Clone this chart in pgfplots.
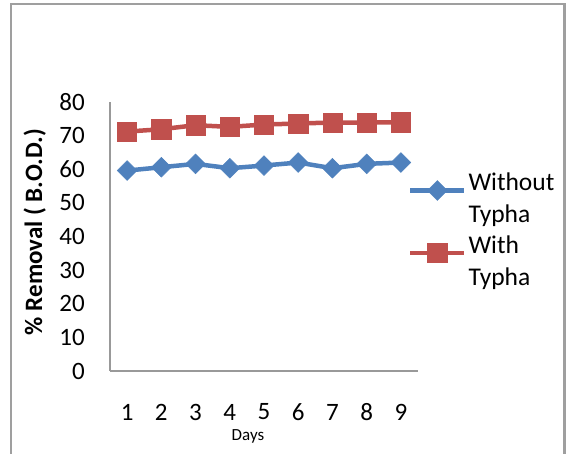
\documentclass[border=0pt]{standalone}
\usepackage{pgfplots}
\pgfplotsset{compat=1.18}
\usepackage{fontspec}
\setmainfont{Carlito}
\definecolor{xlblue}{HTML}{4F81BD}
\definecolor{xlred}{HTML}{C0504D}
\begin{document}
\begin{tikzpicture}[x=1pt,y=1pt]
\useasboundingbox (0,0) rectangle (566,454);
\draw[gray!75, line width=2.5pt] (11,-10) -- (11,450) -- (564.5,450) -- (564.5,-10);
\begin{axis}[
  at={(110pt,83pt)}, anchor=south west,
  scale only axis, width=308pt, height=269pt,
  xmin=0.5, xmax=9.5, ymin=0, ymax=80,
  axis lines=left,
  axis line style={gray!80, line width=1.2pt, -},
  xtick={1,...,9}, ytick={0,10,...,80},
  major tick length=0pt,
  /pgf/number format/assume math mode=true,
  tick label style={font=\fontsize{25}{29}\selectfont},
  xticklabel style={anchor=center, yshift=-41pt},
  yticklabel style={anchor=east, inner sep=0pt, xshift=-25pt},
  xlabel={Days},
  xlabel style={font=\fontsize{17}{20}\selectfont, at={(axis description cs:0.448,-0.245)}, anchor=center},
  ylabel={\% Removal ( B.O.D.)},
  ylabel style={font=\fontsize{25}{28}\selectfont\bfseries, at={(axis description cs:-0.244,0.517)}, anchor=center},
  legend style={draw=none, fill=none, at={(axis description cs:0.967,0.745)}, anchor=north west,
    inner sep=0pt, row sep=33pt,
    nodes={font=\fontsize{25.5}{32.5}\selectfont, inner sep=2pt, anchor=base west}},
  legend cell align=left,
  legend image code/.code={\draw[mark repeat=2,mark phase=2] plot coordinates {(0pt,0pt)(27pt,0pt)(54pt,0pt)};},
  clip=false,
]
\addplot[color=xlblue, line width=4.5pt, mark=square*, mark size=7pt,
  mark options={rotate=45, line width=0.5pt, fill=xlblue}]
  coordinates {(1,59.6)(2,60.6)(3,61.6)(4,60.3)(5,61.1)(6,62.0)(7,60.3)(8,61.6)(9,62.0)};
\addlegendentry{\vtop{\hbox{Without}\hbox{Typha}}}
\addplot[color=xlred, line width=4.5pt, mark=square*, mark size=9.6pt,
  mark options={line width=0.5pt, fill=xlred}]
  coordinates {(1,71.2)(2,71.9)(3,73.1)(4,72.6)(5,73.3)(6,73.6)(7,73.9)(8,73.9)(9,74.0)};
\addlegendentry{\vtop{\hbox{With}\hbox{Typha}}}
\end{axis}
\end{tikzpicture}
\end{document}
